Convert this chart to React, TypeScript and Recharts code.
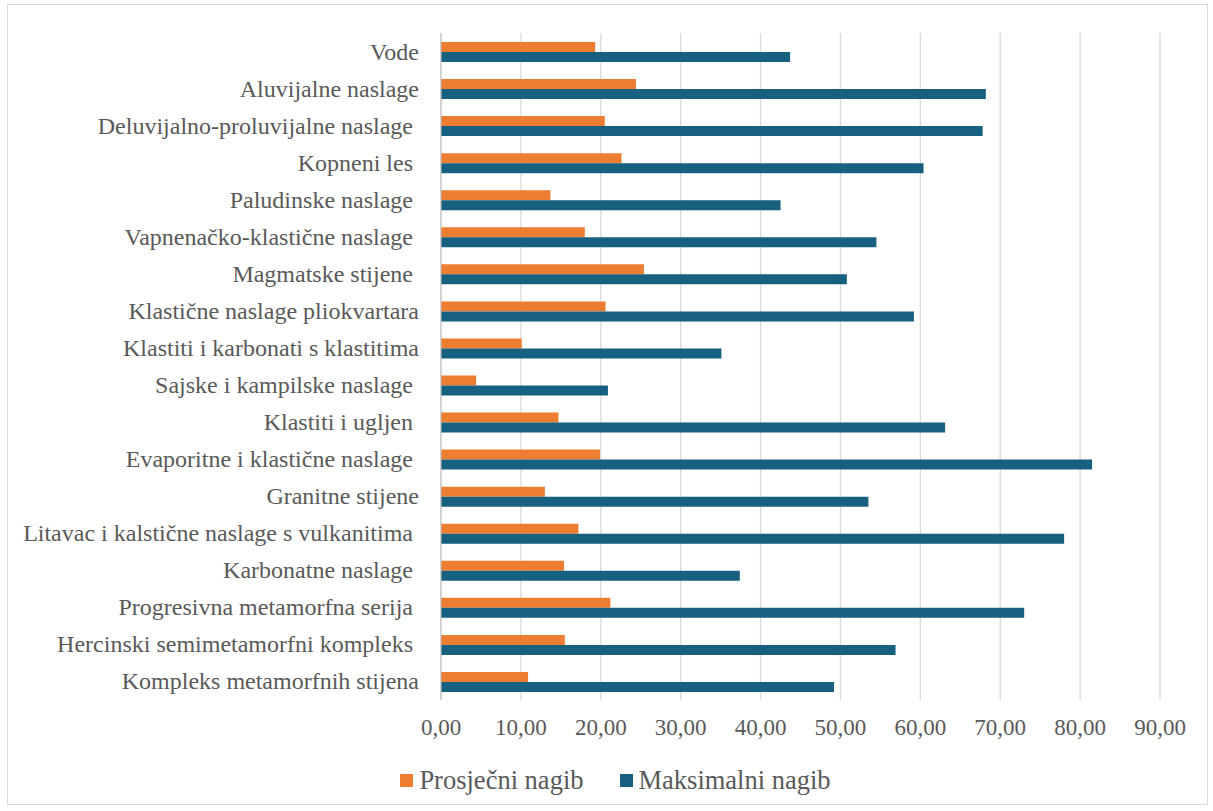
import React from "react";
import { BarChart, Bar, XAxis, YAxis, CartesianGrid, Legend } from "recharts";

// kategorije odozgo prema dolje (razmak na kraju kao u originalu)
const categories = [
  "Vode",
  "Aluvijalne naslage",
  "Deluvijalno-proluvijalne naslage ",
  "Kopneni les ",
  "Paludinske naslage ",
  "Vapnenačko-klastične naslage ",
  "Magmatske stijene ",
  "Klastične naslage pliokvartara",
  "Klastiti i karbonati s klastitima",
  "Sajske i kampilske naslage ",
  "Klastiti i ugljen ",
  "Evaporitne i klastične naslage ",
  "Granitne stijene",
  "Litavac i kalstične naslage s vulkanitima ",
  "Karbonatne naslage ",
  "Progresivna metamorfna serija ",
  "Hercinski semimetamorfni kompleks ",
  "Kompleks metamorfnih stijena",
];

const prosjecni = [
  19.3, 24.4, 20.5, 22.6, 13.7, 18.0, 25.4, 20.6, 10.1, 4.4, 14.7, 19.9, 13.0,
  17.2, 15.4, 21.2, 15.5, 10.9,
];

const maksimalni = [
  43.7, 68.2, 67.8, 60.4, 42.5, 54.5, 50.8, 59.2, 35.1, 20.9, 63.1, 81.5, 53.5,
  78.0, 37.4, 73.0, 56.9, 49.2,
];

const xTicks = [0, 10, 20, 30, 40, 50, 60, 70, 80, 90];

const seriesNames = ["Prosječni nagib", "Maksimalni nagib"];
const seriesColors = ["#ED7D31", "#18607F"];

const data = categories.map((name, i) => ({
  name,
  prosjecni: prosjecni[i],
  maksimalni: maksimalni[i],
}));

const FONT = "'Liberation Serif', 'Times New Roman', serif";
const TEXT = "#595959";

const CategoryTick = (props: any) => {
  const { x, y, payload } = props;
  const label: string = payload.value;
  const trailing = label.endsWith(" ");
  return (
    <text
      x={trailing ? x - 6 : x}
      y={y}
      textAnchor="end"
      dominantBaseline="central"
      fill={TEXT}
      fontSize={24}
      fontFamily={FONT}
    >
      {label.trim()}
    </text>
  );
};

const ValueTick = (props: any) => {
  const { x, y, payload } = props;
  return (
    <text
      x={x}
      y={y}
      textAnchor="middle"
      dominantBaseline="central"
      fill={TEXT}
      fontSize={23}
      fontFamily={FONT}
    >
      {Number(payload.value).toFixed(2).replace(".", ",")}
    </text>
  );
};

const LegendContent = () => (
  <div
    style={{
      display: "flex",
      justifyContent: "center",
      gap: 36,
      paddingLeft: 60,
      fontFamily: FONT,
      fontSize: 26.5,
      color: TEXT,
      lineHeight: "30px",
    }}
  >
    {seriesNames.map((n, i) => (
      <div key={n} style={{ display: "flex", alignItems: "center" }}>
        <span
          style={{
            display: "inline-block",
            width: 13,
            height: 13,
            background: seriesColors[i],
            marginRight: 6,
          }}
        />
        <span>{n}</span>
      </div>
    ))}
  </div>
);

export default function App() {
  return (
    <div style={{ position: "relative", width: 1213, height: 811, background: "#fff" }}>
      <style>{`body { margin: 0; }`}</style>
      <div
        style={{
          position: "absolute",
          left: 7,
          top: 4,
          width: 1201,
          height: 801,
          border: "1px solid #d9d9d9",
          boxSizing: "border-box",
        }}
      />
      <BarChart
        width={1213}
        height={811}
        data={data}
        layout="vertical"
        margin={{ top: 33, right: 53, left: 11, bottom: 16 }}
        barGap={0}
        barSize={10}
        style={{ position: "absolute", left: 0, top: 0, fontFamily: FONT }}
      >
        <CartesianGrid horizontal={false} stroke="#d9d9d9" strokeWidth={1.3} />
        <XAxis
          type="number"
          domain={[0, 90]}
          ticks={xTicks}
          axisLine={false}
          tickLine={false}
          tickMargin={21}
          height={65}
          interval={0}
          tick={<ValueTick />}
        />
        <YAxis
          type="category"
          dataKey="name"
          width={430}
          axisLine={{ stroke: "#bfbfbf" }}
          tickLine={false}
          tickMargin={16}
          interval={0}
          tick={<CategoryTick />}
        />
        <Legend verticalAlign="bottom" align="center" content={<LegendContent />} />
        <Bar
          dataKey="prosjecni"
          name={seriesNames[0]}
          fill={seriesColors[0]}
          isAnimationActive={false}
        />
        <Bar
          dataKey="maksimalni"
          name={seriesNames[1]}
          fill={seriesColors[1]}
          isAnimationActive={false}
        />
      </BarChart>
    </div>
  );
}
